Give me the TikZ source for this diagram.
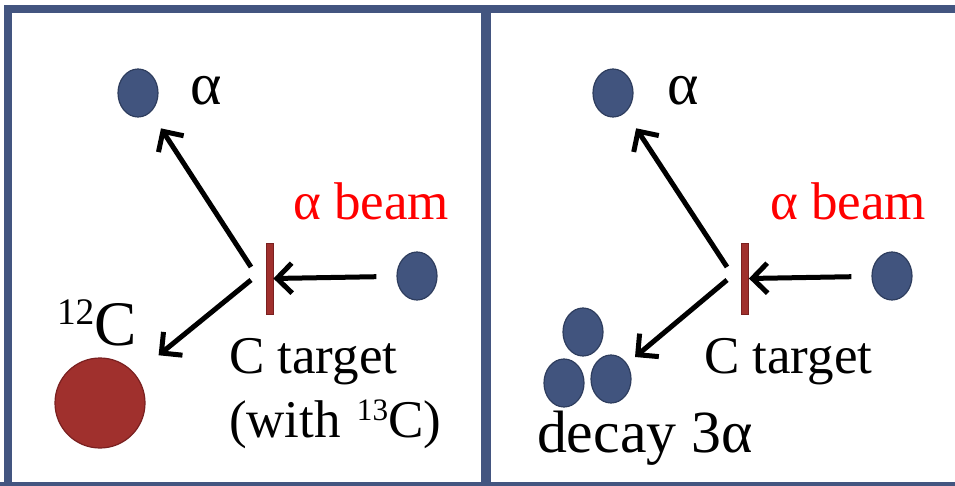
\documentclass[tikz,border=0pt]{standalone}
\usepackage{fontspec}
\setmainfont{Liberation Serif}
\usetikzlibrary{shapes.geometric,arrows.meta}
\definecolor{frameblue}{HTML}{435580}
\definecolor{ballblue}{HTML}{41547E}
\definecolor{balledge}{HTML}{2E3D5E}
\definecolor{tred}{HTML}{A0302D}
\definecolor{tredge}{HTML}{7A2020}
\tikzset{
  ball/.style={ellipse,fill=ballblue,draw=balledge,line width=1.2pt,minimum width=40pt,minimum height=48pt,inner sep=0pt},
  bigball/.style={circle,fill=tred,draw=tredge,line width=1.2pt,minimum size=90pt,inner sep=0pt},
  targetbar/.style={rectangle,fill=tred,draw=tredge,line width=0.8pt,minimum width=7pt,minimum height=71pt,inner sep=0pt},
  arr/.style={line width=5pt,-{Straight Barb[length=15pt,width=30pt,line width=5pt]}},
  lbl/.style={anchor=base west,inner sep=0pt,outer sep=0pt,font=\fontsize{52}{60}\selectfont},
  pframe/.style={draw=frameblue,line width=8pt}
}
\begin{document}
\begin{tikzpicture}[x=1pt,y=-1pt]
\useasboundingbox (0,0) rectangle (955,486);
% frames
\begin{scope}
\clip (0,0) rectangle (955,486);
\draw[pframe] (8,486) -- (8,9.5) -- (955,9.5);
\draw[pframe] (0,485.5) -- (955,485.5);
\draw[pframe,line width=10pt] (485.5,9.5) -- (485.5,486);
\end{scope}

% ---------- left panel ----------
\node[ball] (aL) at (138,93) {};
\node[lbl] (aLlbl) at (190,105) {\scalebox{1.15}{α}};
\node[lbl,text=red] (beamL) at (293,220) {\scalebox{1.02}{α beam}};
\node[targetbar] (barL) at (269.5,278.5) {};
\node[ball] (bL) at (417,276) {};
\node[bigball] (cL) at (100,403) {};
\node[lbl] (s12) at (57,324) {\scalebox{0.72}{12}};
\node[lbl] (c12) at (s12.base east |- 0,345) {\scalebox{1.22}{C}};
\node[lbl] (ctL) at (229,373) {\scalebox{1.02}{C target}};
\node[lbl] (withL) at (229,437) {\scalebox{1.02}{(with}};
\node[lbl,xshift=16pt] (s13) at (withL.base east |- 0,420) {\scalebox{0.6}{13}};
\node[lbl] (withC) at (s13.base east |- 0,437) {\scalebox{1.02}{C)}};
\coordinate (upL) at (251,267);
\coordinate (dnL) at (251,280);
\draw[arr,shorten <=20pt] (bL) -- (barL.east);
\draw[arr,shorten >=19pt] (upL) -- (aL);
\draw[arr,shorten >=30pt] (dnL) -- (cL);

% ---------- right panel ----------
\node[ball] (aR) at (613,93) {};
\node[lbl] (aRlbl) at (667,105) {\scalebox{1.15}{α}};
\node[lbl,text=red] (beamR) at (770,220) {\scalebox{1.02}{α beam}};
\node[targetbar] (barR) at (745,278.5) {};
\node[ball] (bR) at (892,276) {};
\node[ball] (d1) at (583,332) {};
\node[ball] (d2) at (564,383) {};
\node[ball] (d3) at (611,379) {};
\node[lbl] (ctR) at (704,373) {\scalebox{1.02}{C target}};
\node[lbl] (decay) at (537,452) {\scalebox{1.15}{decay 3α}};
\coordinate (upR) at (727,267);
\coordinate (dnR) at (727,280);
\coordinate (tipR) at (635,357);
\draw[arr,shorten <=20pt] (bR) -- (barR.east);
\draw[arr,shorten >=19pt] (upR) -- (aR);
\draw[arr] (dnR) -- (tipR);
\end{tikzpicture}
\end{document}
